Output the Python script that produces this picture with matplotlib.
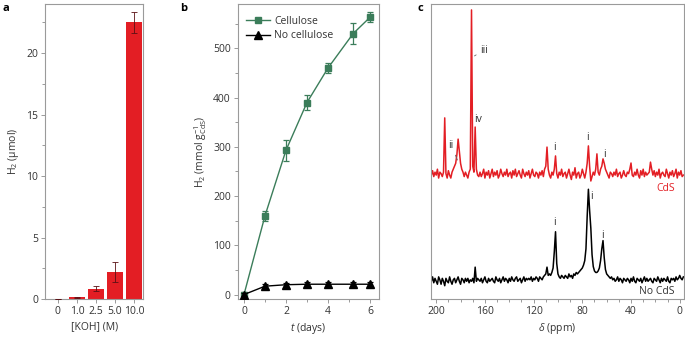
import numpy as np
import matplotlib
matplotlib.use("Agg")
import matplotlib.pyplot as plt
from matplotlib.lines import Line2D
from matplotlib.ticker import MultipleLocator, NullLocator

plt.rcParams["font.family"] = ["Open Sans", "DejaVu Sans"]
plt.rcParams["mathtext.fontset"] = "custom"
plt.rcParams["mathtext.rm"] = "Open Sans"
plt.rcParams["mathtext.it"] = "Open Sans:italic"
plt.rcParams["font.size"] = 7.5

TEXT = "#333333"
FRAME = "#9a9a9a"
RED = "#e31e24"
GREEN = "#3b7d5a"

# panel a: H2 vs KOH concentration
koh_labels = ["0", "1.0", "2.5", "5.0", "10.0"]
h2_koh = [0.02, 0.15, 0.85, 2.2, 22.5]
h2_koh_err = [0.02, 0.05, 0.18, 0.82, 0.85]

# panel b: H2 vs time
t_days = [0, 1, 2, 3, 4, 5.2, 6]
cellulose = [0, 160, 293, 390, 460, 530, 563]
cellulose_err = [5, 10, 21, 16, 10, 22, 10]
no_cellulose = [0, 17, 20, 21, 21, 21, 21]
no_cellulose_err = [3, 5, 4, 4, 4, 4, 4]

# panel c: 13C NMR spectra, 1 ppm steps from 204 ppm down to -3 ppm
ppm_start = 204
nmr_cds = [
    42, 43.5, 41.5, 43, 42, 44, 41, 43, 42.5, 41.5,
    43, 61.4, 42.5, 41, 43.5, 42, 41, 43, 44, 45,
    46, 49, 54.2, 50, 46, 44, 43, 41.5, 43, 42,
    41, 43, 44, 98, 45, 43, 58.3, 44, 42, 41.5,
    43, 41.5, 42.5, 44, 41, 43, 42, 43.5, 41, 42.5,
    44, 41.5, 43, 42, 43.5, 41, 42, 44, 42.5, 41.5,
    43, 42, 44, 41.5, 42.5, 43, 41, 43.5, 42, 44,
    41.5, 42.5, 43.5, 42, 41, 44, 42.5, 41.5, 43, 42,
    43.5, 41, 42.5, 44, 42, 41.5, 43, 42.5, 41, 43,
    42, 43.5, 41.5, 44, 45, 51.5, 44, 42, 41, 43,
    42, 44, 48.5, 42.5, 41, 43, 42, 44, 41.5, 42.5,
    43, 41, 42.5, 44, 42, 40.5, 43, 42, 44.5, 41,
    42.5, 43, 41, 42, 44, 42.5, 41, 43, 46, 51.9,
    45, 40, 41.5, 43, 42, 44, 49.2, 43, 42, 44,
    45, 47.5, 46, 44, 43, 42, 41, 43, 42.5, 41.5,
    43, 42, 44, 41.5, 42.5, 43, 41, 42, 43.5, 42,
    41.5, 43, 42.5, 44, 46.1, 42, 41.5, 43, 42, 44,
    42, 41, 43.5, 42, 44, 41.5, 43, 42, 42.5, 43,
    46.4, 44, 42, 43.5, 41.5, 43, 42, 44, 41, 42.5,
    43, 42, 41.5, 44, 42.5, 41, 43, 42, 43.5, 41.5,
    42.5, 44, 41, 43, 42, 43.5, 41.5, 42,
]
nmr_no_cds = [
    6, 7.5, 5.5, 7, 6, 5, 7.5, 6.5, 5, 7,
    6, 4.5, 7, 6, 5.5, 7.5, 6, 5, 6.5, 7,
    5.5, 6.5, 7.5, 6, 5, 7, 6.5, 5.5, 7, 6,
    7, 5.5, 6.5, 6, 7, 5.5, 10.8, 6, 7, 6.5,
    6, 7, 5.5, 6.5, 7.5, 6, 5.5, 7, 6, 6.5,
    7, 6, 5.5, 7.5, 6.5, 6, 7, 5.5, 6.5, 7.5,
    6, 7, 6.5, 5.5, 7, 6, 7.5, 6.5, 6, 7,
    7.5, 6, 6.5, 7, 5.5, 6.5, 7.5, 6, 7, 6.5,
    7, 6.5, 7.5, 6, 7, 6.5, 7.5, 7, 6, 7.5,
    7, 6.5, 7.5, 8, 8.5, 10.8, 8, 8.5, 8, 9,
    10.5, 16, 22.8, 12, 8.5, 7.5, 7, 8, 7.5, 7,
    8, 7.5, 7, 8.5, 7.5, 8, 7, 8.5, 8, 9,
    8.5, 9, 9.5, 10, 10.5, 11.5, 13, 17, 28, 37.2,
    30, 24, 15, 11, 9.5, 9, 9, 9.5, 10.5, 13,
    17, 19.8, 14, 10, 8.5, 8, 7.5, 7, 7.5, 6.5,
    7, 6, 6.5, 7.5, 6, 7, 6.5, 5.5, 7, 6.5,
    6, 7, 6.5, 5.5, 7, 6, 7.5, 6, 5.5, 7,
    6.5, 6, 7, 5.5, 6.5, 7.5, 6, 7, 6, 6.5,
    7, 6, 5.5, 7, 6.5, 6, 7.5, 6.5, 5.5, 7,
    6, 7, 6.5, 6, 7.5, 6, 5.5, 7, 6.5, 7,
    6, 7.5, 6.5, 7, 8, 7, 6.5, 7.5,
]
ppm = ppm_start - np.arange(len(nmr_cds))


def style_axes(ax):
    for s in ax.spines.values():
        s.set_color(FRAME)
        s.set_linewidth(0.8)
    ax.tick_params(which="both", direction="out", color=FRAME, labelcolor=TEXT,
                   width=0.7, labelsize=7.5, pad=2)
    ax.tick_params(which="major", length=3)
    ax.tick_params(which="minor", length=2)
    ax.tick_params(top=False, right=False)


fig = plt.figure(figsize=(6.85, 3.4), dpi=100)
ax_a = fig.add_axes([0.0657, 0.1206, 0.1435, 0.8676])
ax_b = fig.add_axes([0.347, 0.1206, 0.2063, 0.8676])
ax_c = fig.add_axes([0.6288, 0.1206, 0.3697, 0.8676])

# ---- a ----
x = np.arange(len(koh_labels))
ax_a.bar(x, h2_koh, width=0.81, color=RED, zorder=2)
ax_a.errorbar(x, h2_koh, yerr=h2_koh_err, fmt="none", ecolor="#5a1014",
              elinewidth=0.6, capsize=2.5, capthick=0.6, zorder=3)
ax_a.set_xlim(-0.68, 4.49)
ax_a.set_ylim(0, 24)
ax_a.set_xticks(x)
ax_a.set_xticklabels(koh_labels)
ax_a.yaxis.set_major_locator(MultipleLocator(5))
ax_a.yaxis.set_minor_locator(MultipleLocator(2.5))
style_axes(ax_a)
ax_a.set_xlabel("[KOH] (M)", color=TEXT, fontsize=7.5, labelpad=3)
ax_a.set_ylabel("H$_2$ (\u00b5mol)", color=TEXT, fontsize=7.5, labelpad=4)

# ---- b ----
ax_b.errorbar(t_days, cellulose, yerr=cellulose_err, color=GREEN, marker="s",
              markersize=5, linewidth=1.0, elinewidth=0.9, capsize=2.5,
              capthick=0.9, zorder=3)
ax_b.errorbar(t_days, no_cellulose, yerr=no_cellulose_err, color="black",
              marker="^", markersize=6, linewidth=1.0, elinewidth=0.9,
              capsize=2, capthick=0.9, zorder=4)
ax_b.set_xlim(-0.3, 6.43)
ax_b.set_ylim(-9, 590)
ax_b.xaxis.set_major_locator(MultipleLocator(2))
ax_b.xaxis.set_minor_locator(MultipleLocator(1))
ax_b.yaxis.set_major_locator(MultipleLocator(100))
ax_b.yaxis.set_minor_locator(MultipleLocator(50))
style_axes(ax_b)
ax_b.set_xlabel("$t$ (days)", color=TEXT, fontsize=7.5, labelpad=3)
ax_b.set_ylabel("H$_2$ (mmol g$^{-1}_{\\rm CdS}$)", color=TEXT, fontsize=7.5,
                labelpad=3)
handles = [
    Line2D([], [], color=GREEN, marker="s", markersize=5, linewidth=1.0),
    Line2D([], [], color="black", marker="^", markersize=6, linewidth=1.0),
]
leg = ax_b.legend(handles, ["Cellulose", "No cellulose"], loc="upper left",
                  frameon=False, fontsize=7.5, handlelength=2.3,
                  handletextpad=0.4, borderaxespad=0.0, labelspacing=0.35,
                  bbox_to_anchor=(0.03, 0.975))
for txt in leg.get_texts():
    txt.set_color(TEXT)

# ---- c ----
ax_c.plot(ppm, nmr_cds, color=RED, linewidth=1.1)
ax_c.plot(ppm, nmr_no_cds, color="black", linewidth=1.1)
ax_c.set_xlim(204.5, -3.5)
ax_c.set_ylim(0, 100)
ax_c.xaxis.set_major_locator(MultipleLocator(40))
ax_c.xaxis.set_minor_locator(MultipleLocator(10))
ax_c.yaxis.set_major_locator(NullLocator())
style_axes(ax_c)
ax_c.set_xlabel("$\\delta$ (ppm)", color=TEXT, fontsize=7.5, labelpad=3)

lab = dict(color=TEXT, fontsize=7.5, ha="center", va="center")
line = dict(arrowstyle="-", color="#666666", lw=0.6, shrinkA=1, shrinkB=0)
ax_c.annotate("iii", xy=(168.6, 82.4), xytext=(160.7, 84.4), arrowprops=line, **lab)
ax_c.text(165.6, 60.7, "iv", **lab)
ax_c.annotate("ii", xy=(182.5, 47.1), xytext=(187.7, 52.0), arrowprops=line, **lab)
ax_c.text(102.5, 51.5, "i", **lab)
ax_c.text(75.7, 54.8, "i", **lab)
ax_c.text(62.0, 49.0, "i", **lab)
ax_c.text(102.5, 25.8, "i", **lab)
ax_c.text(72.4, 34.7, "i", **lab)
ax_c.text(63.1, 21.4, "i", **lab)
ax_c.text(4.1, 37.3, "CdS", color=RED, fontsize=7.5, ha="right", va="center")
ax_c.text(4.1, 2.5, "No CdS", color=TEXT, fontsize=7.5, ha="right", va="center")

# panel letters
fig.text(0.003, 0.975, "a", fontsize=8, fontweight="bold", va="center")
fig.text(0.263, 0.975, "b", fontsize=8, fontweight="bold", va="center")
fig.text(0.609, 0.975, "c", fontsize=8, fontweight="bold", va="center")

fig.savefig("out.png", dpi=100)
